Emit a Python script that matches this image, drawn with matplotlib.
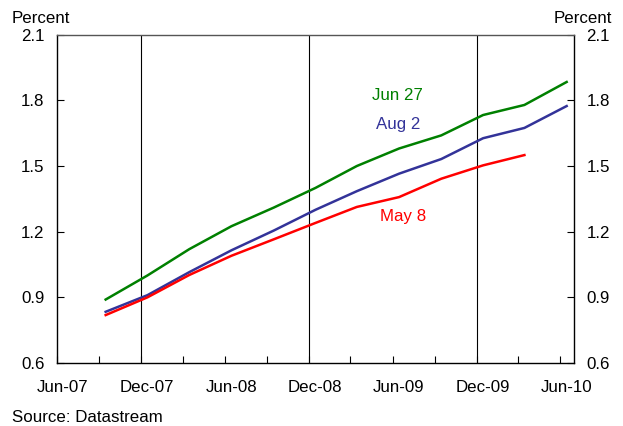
import matplotlib
matplotlib.use("Agg")
import matplotlib.pyplot as plt
import matplotlib.transforms as mtransforms
import pandas as pd

plt.rcParams['font.family'] = ['Liberation Sans', 'DejaVu Sans']

dates = ["2007-09-15", "2007-12-15", "2008-03-15", "2008-06-15", "2008-09-15", "2008-12-15",
         "2009-03-15", "2009-06-15", "2009-09-15", "2009-12-15", "2010-03-15", "2010-06-15"]
jun27 = [0.89, 1.00, 1.12, 1.225, 1.31, 1.40, 1.50, 1.58, 1.64, 1.733, 1.779, 1.884]
aug2 = [0.834, 0.91, 1.015, 1.115, 1.205, 1.30, 1.385, 1.465, 1.532, 1.627, 1.674, 1.774]
may8 = [0.819, 0.90, 1.002, 1.09, 1.165, 1.24, 1.313, 1.358, 1.442, 1.503, 1.55]

x = pd.to_datetime(dates)
FS = 12.2

fig = plt.figure(figsize=(6.23, 4.26), dpi=100)
ax = fig.add_axes([57/623, 1-363/426, (574-57)/623, (363-34.7)/426])

c_green = '#008000'
c_blue = '#333399'
c_red = '#ff0000'

ax.plot(x, jun27, color=c_green, lw=1.8)
ax.plot(x, aug2, color=c_blue, lw=1.8)
ax.plot(x[:len(may8)], may8, color=c_red, lw=1.8)

for d in ["2007-12-01", "2008-12-01", "2009-12-01"]:
    ax.axvline(pd.Timestamp(d), color='black', lw=0.8, zorder=0)

ax.set_xlim(pd.Timestamp("2007-06-01"), pd.Timestamp("2010-07-01"))
ax.set_ylim(0.6, 2.1)
ax.set_yticks([0.6, 0.9, 1.2, 1.5, 1.8, 2.1])
ax.set_yticklabels(["0.6", "0.9", "1.2", "1.5", "1.8", "2.1"])

tick_dates = pd.date_range("2007-06-01", "2010-06-01", freq="3MS")
ax.set_xticks(tick_dates)
ax.set_xticklabels([d.strftime("%b-%y") if d.month in (6, 12) else "" for d in tick_dates])

ax.tick_params(axis='x', direction='in', length=5, width=0.8, pad=12, labelsize=FS)
ax.tick_params(axis='y', direction='in', length=5, width=0.8, pad=9, labelsize=FS,
               left=True, right=True, labelleft=True, labelright=True)

off = mtransforms.ScaledTranslation(6/100, 0, fig.dpi_scale_trans)
for lab in ax.get_xticklabels():
    lab.set_transform(lab.get_transform() + off)

for s in ax.spines.values():
    s.set_linewidth(1.0)
ax.spines['top'].set_color('#555555')

fig.text(397/623, 1-95/426, "Jun 27", color=c_green, fontsize=FS, ha='center', va='center')
fig.text(398/623, 1-124/426, "Aug 2", color=c_blue, fontsize=FS, ha='center', va='center')
fig.text(403/623, 1-217/426, "May 8", color=c_red, fontsize=FS, ha='center', va='center')

fig.text(12/623, 1-23/426, "Percent", fontsize=FS, ha='left', va='baseline')
fig.text(612/623, 1-23/426, "Percent", fontsize=FS, ha='right', va='baseline')
fig.text(12/623, 1-417/426, "Source: Datastream", fontsize=FS, ha='left', va='center')

fig.savefig("out.png", dpi=100)
